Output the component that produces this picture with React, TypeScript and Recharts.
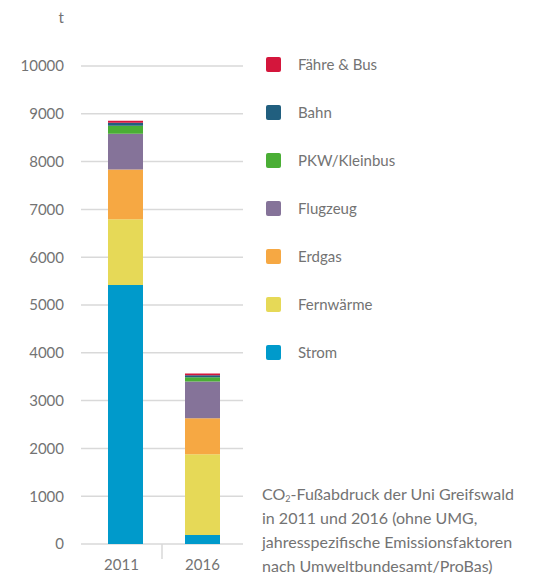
import React from "react";
import { BarChart, Bar, XAxis, YAxis, CartesianGrid } from "recharts";

const years = ["2011", "2016"];
const strom = [5420, 190];
const fernwaerme = [1375, 1690];
const erdgas = [1040, 750];
const flugzeug = [750, 770];
const pkw = [165, 90];
const bahn = [62, 42];
const faehre = [42, 35];

const seriesNames = ["Strom", "Fernwärme", "Erdgas", "Flugzeug", "PKW/Kleinbus", "Bahn", "Fähre & Bus"];
const seriesColors = ["#009ACB", "#E6D957", "#F6A843", "#857399", "#4AAE35", "#215F7F", "#D4163C"];
const seriesValues = [strom, fernwaerme, erdgas, flugzeug, pkw, bahn, faehre];
const yTicks = [0, 1000, 2000, 3000, 4000, 5000, 6000, 7000, 8000, 9000, 10000];

const data = years.map((y, i) => {
  const row: Record<string, string | number> = { year: y };
  seriesNames.forEach((n, s) => {
    row[n] = seriesValues[s][i];
  });
  return row;
});

const FONT = "Lato, 'Noto Sans', sans-serif";
const TEXT = "#737373";
const W = 541;
const H = 575;
const M = { top: 66, right: 298, left: 0, bottom: 0 };
const Y_W = 81;
const X_H = 31;
const plotW = W - M.left - M.right - Y_W;
const band = plotW / years.length;

const XTick = (props: any) => {
  const { x, y, payload, index } = props;
  return (
    <g>
      <text x={x} y={y} dy="0.71em" textAnchor="middle" fill={TEXT} fontSize={15} fontFamily={FONT}>
        {payload.value}
      </text>
      {index < years.length - 1 && (
        <line x1={x + band / 2} x2={x + band / 2} y1={y - 15} y2={y} stroke="#d9d9d9" strokeWidth={1.5} />
      )}
    </g>
  );
};

export default function App() {
  return (
    <div style={{ position: "absolute", left: 0, top: 0, width: W, height: H, background: "#fff", fontFamily: FONT }}>
      <BarChart width={W} height={H} data={data} margin={M} barSize={35}>
        <CartesianGrid vertical={false} stroke="#d9d9d9" strokeWidth={1.5} xAxisId="labels" />
        <XAxis
          xAxisId="labels"
          dataKey="year"
          axisLine={false}
          tickLine={false}
          tickSize={0}
          tickMargin={15}
          height={X_H}
          tick={<XTick />}
        />
        <XAxis xAxisId="bars" dataKey="year" hide height={0} padding={{ left: 6, right: 2 }} />
        <YAxis
          domain={[0, 10000]}
          ticks={yTicks}
          width={Y_W}
          axisLine={false}
          tickLine={false}
          tickSize={0}
          tickMargin={17}
          tick={{ fill: TEXT, fontSize: 15, fontFamily: FONT }}
          interval={0}
        />
        {seriesNames.map((n, s) => (
          <Bar key={n} xAxisId="bars" dataKey={n} stackId="a" fill={seriesColors[s]} isAnimationActive={false} />
        ))}
      </BarChart>
      <div style={{ position: "absolute", left: 40, width: 24, top: 8, textAlign: "right", color: TEXT, fontSize: 15 }}>t</div>
      <div style={{ position: "absolute", left: 266, top: 56 }}>
        {seriesNames
          .map((n, s) => ({ n, c: seriesColors[s] }))
          .reverse()
          .map(({ n, c }) => (
            <div key={n} style={{ height: 48, display: "flex", alignItems: "flex-start" }}>
              <div style={{ width: 15, height: 15, borderRadius: 2, background: c, marginTop: 1 }} />
              <div style={{ marginLeft: 17, color: TEXT, fontSize: 15, lineHeight: "17px" }}>{n}</div>
            </div>
          ))}
      </div>
      <div style={{ position: "absolute", left: 262, top: 482, color: TEXT, fontSize: 16, lineHeight: "24px", whiteSpace: "nowrap" }}>
        CO<sub style={{ fontSize: 9, verticalAlign: "-2px", lineHeight: 0 }}>2</sub>-Fußabdruck der Uni Greifswald
        <br />
        in 2011 und 2016 (ohne UMG,
        <br />
        jahresspezifische Emissionsfaktoren
        <br />
        nach Umweltbundesamt/ProBas)
      </div>
    </div>
  );
}
